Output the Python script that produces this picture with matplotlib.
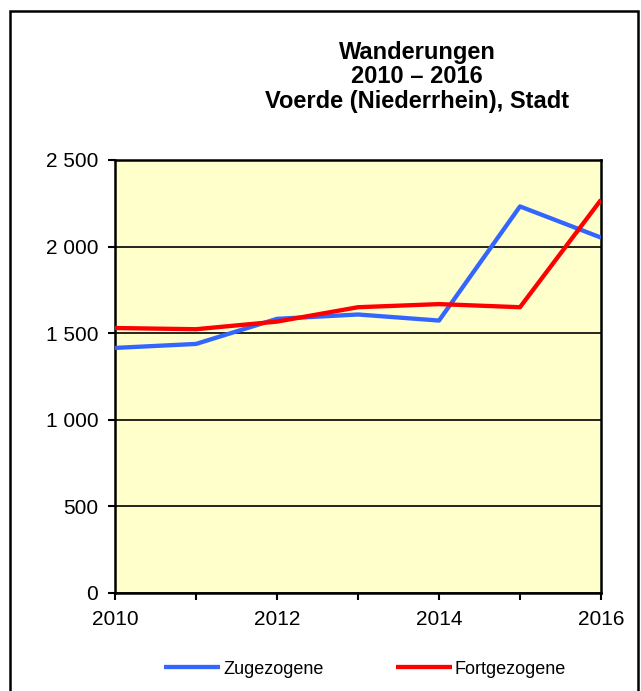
import matplotlib
matplotlib.use("Agg")
import matplotlib.pyplot as plt
from matplotlib.patches import Rectangle

plt.rcParams["font.family"] = ["Liberation Sans", "DejaVu Sans"]

# Daten
jahre = [2010, 2011, 2012, 2013, 2014, 2015, 2016]
zugezogene = [1415, 1438, 1583, 1608, 1573, 2232, 2052]
fortgezogene = [1530, 1523, 1567, 1650, 1668, 1650, 2270]
y_ticks = [0, 500, 1000, 1500, 2000, 2500]
x_labels = [2010, 2012, 2014, 2016]

fig = plt.figure(figsize=(6.41, 6.91), dpi=100)
ax = fig.add_axes([115 / 641, 1 - 593 / 691, 486 / 641, 433 / 691])
ax.set_facecolor("#FFFFCC")

ax.plot(jahre, zugezogene, color="#3366FF", lw=3.1, label="Zugezogene",
        solid_capstyle="butt", zorder=3)
ax.plot(jahre, fortgezogene, color="#FF0000", lw=3.1, label="Fortgezogene",
        solid_capstyle="butt", zorder=3)

ax.set_xlim(2010, 2016)
ax.set_ylim(0, 2500)
ax.set_xticks(jahre)
ax.set_xticklabels([str(j) if j in x_labels else "" for j in jahre])
ax.set_yticks(y_ticks)
ax.set_yticklabels([f"{v:,}".replace(",", " ") for v in y_ticks])
ax.yaxis.grid(True, color="black", lw=1.2)
ax.set_axisbelow(True)
ax.tick_params(direction="out", length=5, width=1.5, labelsize=15, pad=7)
for s in ax.spines.values():
    s.set_linewidth(1.8)

fig.text(417 / 641, 1 - 41 / 691, "Wanderungen\n2010 – 2016\nVoerde (Niederrhein), Stadt",
         ha="center", va="top", fontsize=17, fontweight="bold", linespacing=1.07)

fig.legend(loc="center", bbox_to_anchor=(365 / 641, 1 - 669 / 691), ncol=2, frameon=False,
           fontsize=13, handlelength=3.1, handletextpad=0.17, columnspacing=4.0)

# Rahmen um die Grafik
fig.patches.append(Rectangle((10 / 641, -0.05), 628 / 641, 1.05 - 11 / 691,
                             transform=fig.transFigure, fill=False, lw=1.8,
                             edgecolor="black"))

fig.savefig("out.png", dpi=100)
